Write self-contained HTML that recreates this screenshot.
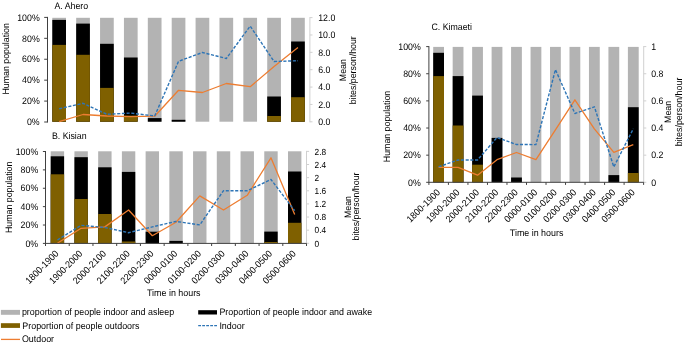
<!DOCTYPE html>
<html><head><meta charset="utf-8"><style>
html,body{margin:0;padding:0;background:#fff;width:685px;height:344px;overflow:hidden}
svg{display:block;font-family:"Liberation Sans", sans-serif} text{filter:grayscale(1);text-rendering:geometricPrecision}
</style></head><body>
<svg width="685" height="344" viewBox="0 0 685 344">
<rect x="52.3" y="17.8" width="13.7" height="103.9" fill="#b3b3b3"/>
<rect x="52.3" y="19.9" width="13.7" height="101.8" fill="#000000"/>
<rect x="52.3" y="44.9" width="13.7" height="76.8" fill="#7f6000"/>
<rect x="76.18" y="17.8" width="13.7" height="103.9" fill="#b3b3b3"/>
<rect x="76.18" y="23.6" width="13.7" height="98.1" fill="#000000"/>
<rect x="76.18" y="54.8" width="13.7" height="66.9" fill="#7f6000"/>
<rect x="100.06" y="17.8" width="13.7" height="103.9" fill="#b3b3b3"/>
<rect x="100.06" y="43.8" width="13.7" height="77.9" fill="#000000"/>
<rect x="100.06" y="87.9" width="13.7" height="33.8" fill="#7f6000"/>
<rect x="123.94" y="17.8" width="13.7" height="103.9" fill="#b3b3b3"/>
<rect x="123.94" y="57.5" width="13.7" height="64.2" fill="#000000"/>
<rect x="123.94" y="115.6" width="13.7" height="6.1" fill="#7f6000"/>
<rect x="147.82" y="17.8" width="13.7" height="103.9" fill="#b3b3b3"/>
<rect x="147.82" y="118.1" width="13.7" height="3.6" fill="#000000"/>
<rect x="171.7" y="17.8" width="13.7" height="103.9" fill="#b3b3b3"/>
<rect x="171.7" y="119.8" width="13.7" height="1.9" fill="#000000"/>
<rect x="195.58" y="17.8" width="13.7" height="103.9" fill="#b3b3b3"/>
<rect x="219.46" y="17.8" width="13.7" height="103.9" fill="#b3b3b3"/>
<rect x="243.34" y="17.8" width="13.7" height="103.9" fill="#b3b3b3"/>
<rect x="267.22" y="17.8" width="13.7" height="103.9" fill="#b3b3b3"/>
<rect x="267.22" y="96.5" width="13.7" height="25.2" fill="#000000"/>
<rect x="267.22" y="116" width="13.7" height="5.7" fill="#7f6000"/>
<rect x="291.1" y="17.8" width="13.7" height="103.9" fill="#b3b3b3"/>
<rect x="291.1" y="41.5" width="13.7" height="80.2" fill="#000000"/>
<rect x="291.1" y="97.2" width="13.7" height="24.5" fill="#7f6000"/>
<polyline points="59.15,121.7 83.03,114.5 106.91,116 130.79,116.6 154.67,116.2 178.55,90.3 202.43,92.5 226.31,83.5 250.19,86.7 274.07,66.5 297.95,47.6" fill="none" stroke="#ed7d31" stroke-width="1.3" stroke-linejoin="round"/>
<polyline points="59.15,108.8 83.03,103.3 106.91,114.3 130.79,113.1 154.67,116 178.55,61.3 202.43,52.5 226.31,58.5 250.19,26.1 274.07,61.5 297.95,60.7" fill="none" stroke="#2e75b6" stroke-width="1.4" stroke-dasharray="3.1 1.6" stroke-linejoin="round"/>
<rect x="50.7" y="151.3" width="13.4" height="92" fill="#b3b3b3"/>
<rect x="50.7" y="156.3" width="13.4" height="87" fill="#000000"/>
<rect x="50.7" y="174.3" width="13.4" height="69" fill="#7f6000"/>
<rect x="74.43" y="151.3" width="13.4" height="92" fill="#b3b3b3"/>
<rect x="74.43" y="157.2" width="13.4" height="86.1" fill="#000000"/>
<rect x="74.43" y="199" width="13.4" height="44.3" fill="#7f6000"/>
<rect x="98.16" y="151.3" width="13.4" height="92" fill="#b3b3b3"/>
<rect x="98.16" y="167.3" width="13.4" height="76" fill="#000000"/>
<rect x="98.16" y="214" width="13.4" height="29.3" fill="#7f6000"/>
<rect x="121.89" y="151.3" width="13.4" height="92" fill="#b3b3b3"/>
<rect x="121.89" y="171.9" width="13.4" height="71.4" fill="#000000"/>
<rect x="121.89" y="241.5" width="13.4" height="1.8" fill="#7f6000"/>
<rect x="145.62" y="151.3" width="13.4" height="92" fill="#b3b3b3"/>
<rect x="145.62" y="231.7" width="13.4" height="11.6" fill="#000000"/>
<rect x="169.35" y="151.3" width="13.4" height="92" fill="#b3b3b3"/>
<rect x="169.35" y="240.9" width="13.4" height="2.4" fill="#000000"/>
<rect x="193.08" y="151.3" width="13.4" height="92" fill="#b3b3b3"/>
<rect x="216.81" y="151.3" width="13.4" height="92" fill="#b3b3b3"/>
<rect x="240.54" y="151.3" width="13.4" height="92" fill="#b3b3b3"/>
<rect x="264.27" y="151.3" width="13.4" height="92" fill="#b3b3b3"/>
<rect x="264.27" y="231.6" width="13.4" height="11.7" fill="#000000"/>
<rect x="264.27" y="242" width="13.4" height="1.3" fill="#7f6000"/>
<rect x="288" y="151.3" width="13.4" height="92" fill="#b3b3b3"/>
<rect x="288" y="171.5" width="13.4" height="71.8" fill="#000000"/>
<rect x="288" y="222.8" width="13.4" height="20.5" fill="#7f6000"/>
<polyline points="57.4,243.3 81.13,228.3 104.86,226.9 128.59,210 152.32,235.7 176.05,222.3 199.78,195.9 223.51,210 247.24,195.3 270.97,157.8 294.7,214.5" fill="none" stroke="#ed7d31" stroke-width="1.3" stroke-linejoin="round"/>
<polyline points="57.4,240 81.13,225.3 104.86,227.5 128.59,232.7 152.32,226.9 176.05,221.4 199.78,224.9 223.51,190.7 247.24,190.7 270.97,179.5 294.7,210.6" fill="none" stroke="#2e75b6" stroke-width="1.4" stroke-dasharray="3.1 1.6" stroke-linejoin="round"/>
<rect x="433.2" y="46.9" width="10.8" height="135.4" fill="#b3b3b3"/>
<rect x="433.2" y="52.8" width="10.8" height="129.5" fill="#000000"/>
<rect x="433.2" y="76.1" width="10.8" height="106.2" fill="#7f6000"/>
<rect x="452.67" y="46.9" width="10.8" height="135.4" fill="#b3b3b3"/>
<rect x="452.67" y="76.1" width="10.8" height="106.2" fill="#000000"/>
<rect x="452.67" y="125.5" width="10.8" height="56.8" fill="#7f6000"/>
<rect x="472.14" y="46.9" width="10.8" height="135.4" fill="#b3b3b3"/>
<rect x="472.14" y="95.6" width="10.8" height="86.7" fill="#000000"/>
<rect x="472.14" y="164.7" width="10.8" height="17.6" fill="#7f6000"/>
<rect x="491.61" y="46.9" width="10.8" height="135.4" fill="#b3b3b3"/>
<rect x="491.61" y="137.9" width="10.8" height="44.4" fill="#000000"/>
<rect x="511.08" y="46.9" width="10.8" height="135.4" fill="#b3b3b3"/>
<rect x="511.08" y="177.5" width="10.8" height="4.8" fill="#000000"/>
<rect x="530.55" y="46.9" width="10.8" height="135.4" fill="#b3b3b3"/>
<rect x="550.02" y="46.9" width="10.8" height="135.4" fill="#b3b3b3"/>
<rect x="569.49" y="46.9" width="10.8" height="135.4" fill="#b3b3b3"/>
<rect x="588.96" y="46.9" width="10.8" height="135.4" fill="#b3b3b3"/>
<rect x="608.43" y="46.9" width="10.8" height="135.4" fill="#b3b3b3"/>
<rect x="608.43" y="175.1" width="10.8" height="7.2" fill="#000000"/>
<rect x="627.9" y="46.9" width="10.8" height="135.4" fill="#b3b3b3"/>
<rect x="627.9" y="107.2" width="10.8" height="75.1" fill="#000000"/>
<rect x="627.9" y="173" width="10.8" height="9.3" fill="#7f6000"/>
<polyline points="438.6,167.3 458.07,167.3 477.54,175.2 497.01,159.7 516.48,152.5 535.95,159.7 555.42,129.8 574.89,99.8 594.36,128.8 613.83,152.3 633.3,144.6" fill="none" stroke="#ed7d31" stroke-width="1.3" stroke-linejoin="round"/>
<polyline points="438.6,166.8 458.07,160 477.54,160 497.01,137.5 516.48,144.5 535.95,144.6 555.42,69.6 574.89,113.5 594.36,106.8 613.83,166.9 633.3,128.8" fill="none" stroke="#2e75b6" stroke-width="1.4" stroke-dasharray="3.1 1.6" stroke-linejoin="round"/>
<path d="M47.5 16.9 V122.5" stroke="#404040" stroke-width="1" fill="none"/>
<path d="M44.2 122 H47.5" stroke="#404040" stroke-width="1" fill="none"/>
<text transform="translate(39.7 125.2) scale(0.9346 1)" font-size="9.42" text-anchor="end" fill="#000">0%</text>
<path d="M44.2 101.08 H47.5" stroke="#404040" stroke-width="1" fill="none"/>
<text transform="translate(39.7 104.28) scale(0.9346 1)" font-size="9.42" text-anchor="end" fill="#000">20%</text>
<path d="M44.2 80.16 H47.5" stroke="#404040" stroke-width="1" fill="none"/>
<text transform="translate(39.7 83.36) scale(0.9346 1)" font-size="9.42" text-anchor="end" fill="#000">40%</text>
<path d="M44.2 59.24 H47.5" stroke="#404040" stroke-width="1" fill="none"/>
<text transform="translate(39.7 62.44) scale(0.9346 1)" font-size="9.42" text-anchor="end" fill="#000">60%</text>
<path d="M44.2 38.32 H47.5" stroke="#404040" stroke-width="1" fill="none"/>
<text transform="translate(39.7 41.52) scale(0.9346 1)" font-size="9.42" text-anchor="end" fill="#000">80%</text>
<path d="M44.2 17.4 H47.5" stroke="#404040" stroke-width="1" fill="none"/>
<text transform="translate(39.7 20.6) scale(0.9346 1)" font-size="9.42" text-anchor="end" fill="#000">100%</text>
<path d="M309.9 17.1 V122.3" stroke="#d0d0d0" stroke-width="1" fill="none"/>
<path d="M309.9 121.8 H312.5" stroke="#d0d0d0" stroke-width="1" fill="none"/>
<text transform="translate(318.2 125) scale(0.9346 1)" font-size="9.42" text-anchor="start" fill="#000">0.0</text>
<path d="M309.9 104.43 H312.5" stroke="#d0d0d0" stroke-width="1" fill="none"/>
<text transform="translate(318.2 107.63) scale(0.9346 1)" font-size="9.42" text-anchor="start" fill="#000">2.0</text>
<path d="M309.9 87.07 H312.5" stroke="#d0d0d0" stroke-width="1" fill="none"/>
<text transform="translate(318.2 90.27) scale(0.9346 1)" font-size="9.42" text-anchor="start" fill="#000">4.0</text>
<path d="M309.9 69.7 H312.5" stroke="#d0d0d0" stroke-width="1" fill="none"/>
<text transform="translate(318.2 72.9) scale(0.9346 1)" font-size="9.42" text-anchor="start" fill="#000">6.0</text>
<path d="M309.9 52.33 H312.5" stroke="#d0d0d0" stroke-width="1" fill="none"/>
<text transform="translate(318.2 55.53) scale(0.9346 1)" font-size="9.42" text-anchor="start" fill="#000">8.0</text>
<path d="M309.9 34.97 H312.5" stroke="#d0d0d0" stroke-width="1" fill="none"/>
<text transform="translate(318.2 38.17) scale(0.9346 1)" font-size="9.42" text-anchor="start" fill="#000">10.0</text>
<path d="M309.9 17.6 H312.5" stroke="#d0d0d0" stroke-width="1" fill="none"/>
<text transform="translate(318.2 20.8) scale(0.9346 1)" font-size="9.42" text-anchor="start" fill="#000">12.0</text>
<text transform="translate(54.4 8.8) scale(0.9346 1)" font-size="9.42" text-anchor="start" fill="#000">A. Ahero</text>
<text transform="translate(9.4 58.8) rotate(-90) scale(0.9346 1)" font-size="9.42" text-anchor="middle" fill="#000">Human population</text>
<text transform="translate(346.3 70.2) rotate(-90) scale(0.9346 1)" font-size="9.42" text-anchor="middle" fill="#000">Mean</text>
<text transform="translate(356 70.2) rotate(-90) scale(0.9346 1)" font-size="9.42" text-anchor="middle" fill="#000">bites/person/hour</text>
<path d="M45.5 151 V243.9" stroke="#404040" stroke-width="1" fill="none"/>
<path d="M42.9 243.4 H45.5" stroke="#404040" stroke-width="1" fill="none"/>
<text transform="translate(38.2 246.6) scale(0.9346 1)" font-size="9.42" text-anchor="end" fill="#000">0%</text>
<path d="M42.9 225.02 H45.5" stroke="#404040" stroke-width="1" fill="none"/>
<text transform="translate(38.2 228.22) scale(0.9346 1)" font-size="9.42" text-anchor="end" fill="#000">20%</text>
<path d="M42.9 206.64 H45.5" stroke="#404040" stroke-width="1" fill="none"/>
<text transform="translate(38.2 209.84) scale(0.9346 1)" font-size="9.42" text-anchor="end" fill="#000">40%</text>
<path d="M42.9 188.26 H45.5" stroke="#404040" stroke-width="1" fill="none"/>
<text transform="translate(38.2 191.46) scale(0.9346 1)" font-size="9.42" text-anchor="end" fill="#000">60%</text>
<path d="M42.9 169.88 H45.5" stroke="#404040" stroke-width="1" fill="none"/>
<text transform="translate(38.2 173.08) scale(0.9346 1)" font-size="9.42" text-anchor="end" fill="#000">80%</text>
<path d="M42.9 151.5 H45.5" stroke="#404040" stroke-width="1" fill="none"/>
<text transform="translate(38.2 154.7) scale(0.9346 1)" font-size="9.42" text-anchor="end" fill="#000">100%</text>
<path d="M306.5 150.9 V243.8" stroke="#d0d0d0" stroke-width="1" fill="none"/>
<path d="M306.5 243.3 H309.1" stroke="#d0d0d0" stroke-width="1" fill="none"/>
<text transform="translate(314.6 246.5) scale(0.9346 1)" font-size="8.88" text-anchor="start" fill="#000">0</text>
<path d="M306.5 230.17 H309.1" stroke="#d0d0d0" stroke-width="1" fill="none"/>
<text transform="translate(314.6 233.37) scale(0.9346 1)" font-size="8.88" text-anchor="start" fill="#000">0.4</text>
<path d="M306.5 217.04 H309.1" stroke="#d0d0d0" stroke-width="1" fill="none"/>
<text transform="translate(314.6 220.24) scale(0.9346 1)" font-size="8.88" text-anchor="start" fill="#000">0.8</text>
<path d="M306.5 203.91 H309.1" stroke="#d0d0d0" stroke-width="1" fill="none"/>
<text transform="translate(314.6 207.11) scale(0.9346 1)" font-size="8.88" text-anchor="start" fill="#000">1.2</text>
<path d="M306.5 190.79 H309.1" stroke="#d0d0d0" stroke-width="1" fill="none"/>
<text transform="translate(314.6 193.99) scale(0.9346 1)" font-size="8.88" text-anchor="start" fill="#000">1.6</text>
<path d="M306.5 177.66 H309.1" stroke="#d0d0d0" stroke-width="1" fill="none"/>
<text transform="translate(314.6 180.86) scale(0.9346 1)" font-size="8.88" text-anchor="start" fill="#000">2</text>
<path d="M306.5 164.53 H309.1" stroke="#d0d0d0" stroke-width="1" fill="none"/>
<text transform="translate(314.6 167.73) scale(0.9346 1)" font-size="8.88" text-anchor="start" fill="#000">2.4</text>
<path d="M306.5 151.4 H309.1" stroke="#d0d0d0" stroke-width="1" fill="none"/>
<text transform="translate(314.6 154.6) scale(0.9346 1)" font-size="8.88" text-anchor="start" fill="#000">2.8</text>
<path d="M45.5 243.4 H306.5" stroke="#404040" stroke-width="1" fill="none"/>
<path d="M45.5 243.4 V246" stroke="#404040" stroke-width="1" fill="none"/>
<path d="M69.23 243.4 V246" stroke="#404040" stroke-width="1" fill="none"/>
<path d="M92.96 243.4 V246" stroke="#404040" stroke-width="1" fill="none"/>
<path d="M116.69 243.4 V246" stroke="#404040" stroke-width="1" fill="none"/>
<path d="M140.42 243.4 V246" stroke="#404040" stroke-width="1" fill="none"/>
<path d="M164.15 243.4 V246" stroke="#404040" stroke-width="1" fill="none"/>
<path d="M187.88 243.4 V246" stroke="#404040" stroke-width="1" fill="none"/>
<path d="M211.61 243.4 V246" stroke="#404040" stroke-width="1" fill="none"/>
<path d="M235.34 243.4 V246" stroke="#404040" stroke-width="1" fill="none"/>
<path d="M259.07 243.4 V246" stroke="#404040" stroke-width="1" fill="none"/>
<path d="M282.8 243.4 V246" stroke="#404040" stroke-width="1" fill="none"/>
<path d="M306.53 243.4 V246" stroke="#404040" stroke-width="1" fill="none"/>
<text transform="translate(51.9 138.5) scale(0.9346 1)" font-size="9.42" text-anchor="start" fill="#000">B. Kisian</text>
<text transform="translate(12.3 197.3) rotate(-90) scale(0.9346 1)" font-size="9.42" text-anchor="middle" fill="#000">Human population</text>
<text transform="translate(350.9 207) rotate(-90) scale(0.9346 1)" font-size="9.42" text-anchor="middle" fill="#000">Mean</text>
<text transform="translate(359.3 206.5) rotate(-90) scale(0.9346 1)" font-size="9.42" text-anchor="middle" fill="#000">bites/person/hour</text>
<text transform="translate(59.3 254.3) rotate(-45) scale(0.9346 1)" font-size="9.52" text-anchor="end" fill="#000">1800-1900</text>
<text transform="translate(83.03 254.3) rotate(-45) scale(0.9346 1)" font-size="9.52" text-anchor="end" fill="#000">1900-2000</text>
<text transform="translate(106.76 254.3) rotate(-45) scale(0.9346 1)" font-size="9.52" text-anchor="end" fill="#000">2000-2100</text>
<text transform="translate(130.49 254.3) rotate(-45) scale(0.9346 1)" font-size="9.52" text-anchor="end" fill="#000">2100-2200</text>
<text transform="translate(154.22 254.3) rotate(-45) scale(0.9346 1)" font-size="9.52" text-anchor="end" fill="#000">2200-2300</text>
<text transform="translate(177.95 254.3) rotate(-45) scale(0.9346 1)" font-size="9.52" text-anchor="end" fill="#000">0000-0100</text>
<text transform="translate(201.68 254.3) rotate(-45) scale(0.9346 1)" font-size="9.52" text-anchor="end" fill="#000">0100-0200</text>
<text transform="translate(225.41 254.3) rotate(-45) scale(0.9346 1)" font-size="9.52" text-anchor="end" fill="#000">0200-0300</text>
<text transform="translate(249.14 254.3) rotate(-45) scale(0.9346 1)" font-size="9.52" text-anchor="end" fill="#000">0300-0400</text>
<text transform="translate(272.87 254.3) rotate(-45) scale(0.9346 1)" font-size="9.52" text-anchor="end" fill="#000">0400-0500</text>
<text transform="translate(296.6 254.3) rotate(-45) scale(0.9346 1)" font-size="9.52" text-anchor="end" fill="#000">0500-0600</text>
<text transform="translate(147 295.5) scale(0.9346 1)" font-size="9.52" text-anchor="start" fill="#000">Time in hours</text>
<path d="M428.9 46.1 V182.8" stroke="#404040" stroke-width="1" fill="none"/>
<path d="M426.2 182.3 H428.9" stroke="#404040" stroke-width="1" fill="none"/>
<text transform="translate(420.8 185.5) scale(0.9346 1)" font-size="9.42" text-anchor="end" fill="#000">0%</text>
<path d="M426.2 155.16 H428.9" stroke="#404040" stroke-width="1" fill="none"/>
<text transform="translate(420.8 158.36) scale(0.9346 1)" font-size="9.42" text-anchor="end" fill="#000">20%</text>
<path d="M426.2 128.02 H428.9" stroke="#404040" stroke-width="1" fill="none"/>
<text transform="translate(420.8 131.22) scale(0.9346 1)" font-size="9.42" text-anchor="end" fill="#000">40%</text>
<path d="M426.2 100.88 H428.9" stroke="#404040" stroke-width="1" fill="none"/>
<text transform="translate(420.8 104.08) scale(0.9346 1)" font-size="9.42" text-anchor="end" fill="#000">60%</text>
<path d="M426.2 73.74 H428.9" stroke="#404040" stroke-width="1" fill="none"/>
<text transform="translate(420.8 76.94) scale(0.9346 1)" font-size="9.42" text-anchor="end" fill="#000">80%</text>
<path d="M426.2 46.6 H428.9" stroke="#404040" stroke-width="1" fill="none"/>
<text transform="translate(420.8 49.8) scale(0.9346 1)" font-size="9.42" text-anchor="end" fill="#000">100%</text>
<path d="M643.7 46.1 V182.8" stroke="#d0d0d0" stroke-width="1" fill="none"/>
<path d="M643.7 182.3 H646.3" stroke="#d0d0d0" stroke-width="1" fill="none"/>
<text transform="translate(651.2 185.5) scale(0.9346 1)" font-size="9.42" text-anchor="start" fill="#000">0</text>
<path d="M643.7 155.16 H646.3" stroke="#d0d0d0" stroke-width="1" fill="none"/>
<text transform="translate(651.2 158.36) scale(0.9346 1)" font-size="9.42" text-anchor="start" fill="#000">0.2</text>
<path d="M643.7 128.02 H646.3" stroke="#d0d0d0" stroke-width="1" fill="none"/>
<text transform="translate(651.2 131.22) scale(0.9346 1)" font-size="9.42" text-anchor="start" fill="#000">0.4</text>
<path d="M643.7 100.88 H646.3" stroke="#d0d0d0" stroke-width="1" fill="none"/>
<text transform="translate(651.2 104.08) scale(0.9346 1)" font-size="9.42" text-anchor="start" fill="#000">0.6</text>
<path d="M643.7 73.74 H646.3" stroke="#d0d0d0" stroke-width="1" fill="none"/>
<text transform="translate(651.2 76.94) scale(0.9346 1)" font-size="9.42" text-anchor="start" fill="#000">0.8</text>
<path d="M643.7 46.6 H646.3" stroke="#d0d0d0" stroke-width="1" fill="none"/>
<text transform="translate(651.2 49.8) scale(0.9346 1)" font-size="9.42" text-anchor="start" fill="#000">1</text>
<path d="M428.9 182.3 H643.7" stroke="#404040" stroke-width="1" fill="none"/>
<path d="M428.9 182.3 V184.9" stroke="#404040" stroke-width="1" fill="none"/>
<path d="M448.42 182.3 V184.9" stroke="#404040" stroke-width="1" fill="none"/>
<path d="M467.94 182.3 V184.9" stroke="#404040" stroke-width="1" fill="none"/>
<path d="M487.46 182.3 V184.9" stroke="#404040" stroke-width="1" fill="none"/>
<path d="M506.98 182.3 V184.9" stroke="#404040" stroke-width="1" fill="none"/>
<path d="M526.5 182.3 V184.9" stroke="#404040" stroke-width="1" fill="none"/>
<path d="M546.02 182.3 V184.9" stroke="#404040" stroke-width="1" fill="none"/>
<path d="M565.54 182.3 V184.9" stroke="#404040" stroke-width="1" fill="none"/>
<path d="M585.06 182.3 V184.9" stroke="#404040" stroke-width="1" fill="none"/>
<path d="M604.58 182.3 V184.9" stroke="#404040" stroke-width="1" fill="none"/>
<path d="M624.1 182.3 V184.9" stroke="#404040" stroke-width="1" fill="none"/>
<path d="M643.62 182.3 V184.9" stroke="#404040" stroke-width="1" fill="none"/>
<text transform="translate(431.4 29.9) scale(0.9346 1)" font-size="9.42" text-anchor="start" fill="#000">C. Kimaeti</text>
<text transform="translate(389.6 126.5) rotate(-90) scale(0.9346 1)" font-size="9.42" text-anchor="middle" fill="#000">Human population</text>
<text transform="translate(671 111.9) rotate(-90) scale(0.9346 1)" font-size="9.42" text-anchor="middle" fill="#000">Mean</text>
<text transform="translate(681.6 112) rotate(-90) scale(0.9346 1)" font-size="9.52" text-anchor="middle" fill="#000">bites/person/hour</text>
<text transform="translate(440.7 193) rotate(-45) scale(0.9346 1)" font-size="9.52" text-anchor="end" fill="#000">1800-1900</text>
<text transform="translate(460.17 193) rotate(-45) scale(0.9346 1)" font-size="9.52" text-anchor="end" fill="#000">1900-2000</text>
<text transform="translate(479.64 193) rotate(-45) scale(0.9346 1)" font-size="9.52" text-anchor="end" fill="#000">2000-2100</text>
<text transform="translate(499.11 193) rotate(-45) scale(0.9346 1)" font-size="9.52" text-anchor="end" fill="#000">2100-2200</text>
<text transform="translate(518.58 193) rotate(-45) scale(0.9346 1)" font-size="9.52" text-anchor="end" fill="#000">2200-2300</text>
<text transform="translate(538.05 193) rotate(-45) scale(0.9346 1)" font-size="9.52" text-anchor="end" fill="#000">0000-0100</text>
<text transform="translate(557.52 193) rotate(-45) scale(0.9346 1)" font-size="9.52" text-anchor="end" fill="#000">0100-0200</text>
<text transform="translate(576.99 193) rotate(-45) scale(0.9346 1)" font-size="9.52" text-anchor="end" fill="#000">0200-0300</text>
<text transform="translate(596.46 193) rotate(-45) scale(0.9346 1)" font-size="9.52" text-anchor="end" fill="#000">0300-0400</text>
<text transform="translate(615.93 193) rotate(-45) scale(0.9346 1)" font-size="9.52" text-anchor="end" fill="#000">0400-0500</text>
<text transform="translate(635.4 193) rotate(-45) scale(0.9346 1)" font-size="9.52" text-anchor="end" fill="#000">0500-0600</text>
<text transform="translate(509.8 236) scale(0.9346 1)" font-size="9.52" text-anchor="start" fill="#000">Time in hours</text>
<rect x="0.9" y="309.9" width="19.1" height="4.9" fill="#b3b3b3"/>
<text transform="translate(21.9 315.2) scale(0.9346 1)" font-size="9.52" text-anchor="start" fill="#000">proportion of people indoor and asleep</text>
<rect x="0.9" y="323.2" width="19.1" height="4.7" fill="#7f6000"/>
<text transform="translate(22.3 328.5) scale(0.9346 1)" font-size="9.52" text-anchor="start" fill="#000">Proportion of people outdoors</text>
<path d="M1.0 339.4 H20.0" stroke="#ed7d31" stroke-width="1.3"/>
<text transform="translate(21.9 341.7) scale(0.9346 1)" font-size="9.52" text-anchor="start" fill="#000">Outdoor</text>
<rect x="198.2" y="310.2" width="18.8" height="4.3" fill="#000000"/>
<text transform="translate(219.4 314.9) scale(0.9346 1)" font-size="9.52" text-anchor="start" fill="#000">Proportion of people indoor and awake</text>
<path d="M198.2 325.7 H217.2" stroke="#2e75b6" stroke-width="1.3" stroke-dasharray="2.8 1.2"/>
<text transform="translate(219.4 329) scale(0.9346 1)" font-size="9.52" text-anchor="start" fill="#000">Indoor</text>
</svg>
</body></html>
